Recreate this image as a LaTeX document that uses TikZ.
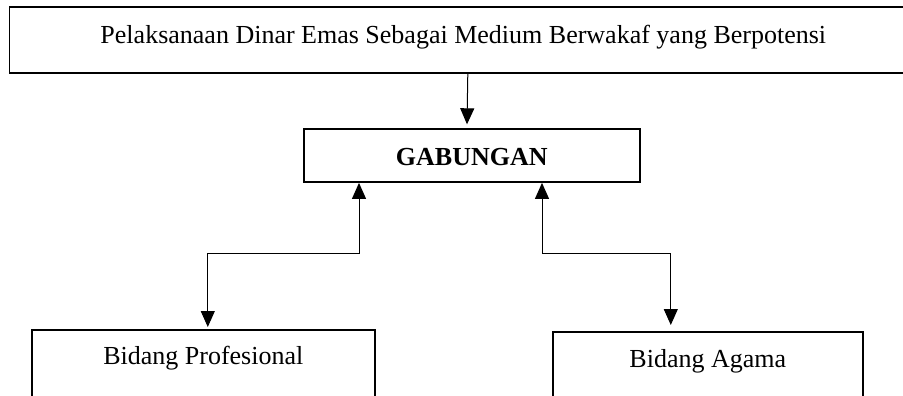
\documentclass[tikz,border=0pt]{standalone}
\usepackage{fontspec}
\setmainfont{Liberation Serif}
\usetikzlibrary{arrows.meta,calc}
\begin{document}
\begin{tikzpicture}[x=1pt,y=-1pt,
  box/.style={draw,line width=1.6pt,inner sep=0pt,align=center,
    font=\fontsize{26}{30}\selectfont},
  conn/.style={line width=1pt,-{Triangle[width=14pt,length=16pt]}},
  dconn/.style={line width=1pt,{Triangle[width=14pt,length=16pt]}-{Triangle[width=14pt,length=16pt]}}]
\useasboundingbox (0,0) rectangle (903,396);
\node[box,anchor=north west,minimum width=907.8pt,text height=36.2pt,text depth=29.6pt]
  (top) at (8.6,6.5) {Pelaksanaan Dinar Emas Sebagai Medium Berwakaf yang Berpotensi};
\node[box,anchor=north west,minimum width=336pt,text height=36.3pt,text depth=16.7pt,
  font=\fontsize{26}{30}\selectfont\bfseries]
  (gab) at (303,128.3) {GABUNGAN};
\node[box,anchor=north west,minimum width=343pt,text height=35pt,text depth=50pt]
  (prof) at (31,329) {Bidang Profesional};
\node[box,anchor=north west,minimum width=310pt,text height=35.7pt,text depth=50pt]
  (agama) at (552,331) {Bidang Agama};
\draw[conn] ([xshift=-4pt]gab.north |- top.south) -- ([yshift=4pt]gab.north -| 467,0);
\draw[dconn] ([xshift=56pt]gab.south west) -- ++(0,71) -| ([xshift=4.5pt,yshift=2pt]prof.north);
\draw[dconn] ([xshift=239pt]gab.south west) -- ++(0,71) -| ([xshift=-37pt,yshift=6pt]agama.north);
\end{tikzpicture}
\end{document}
